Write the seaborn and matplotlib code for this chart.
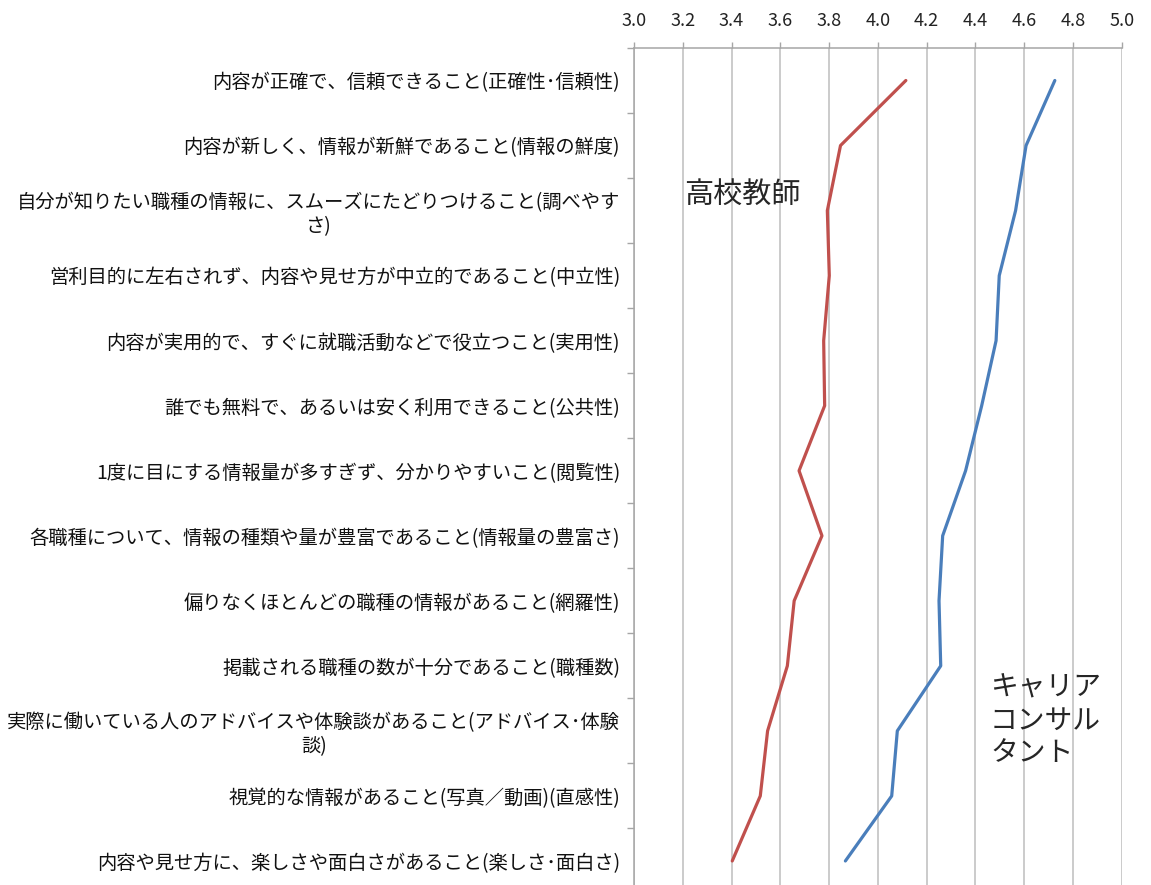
import matplotlib
matplotlib.use("Agg")
import matplotlib.pyplot as plt
from matplotlib.ticker import FixedLocator
import seaborn as sns
import pandas as pd
import numpy as np

categories = [
    "内容が正確で、信頼できること(正確性･信頼性)",
    "内容が新しく、情報が新鮮であること(情報の鮮度)",
    "自分が知りたい職種の情報に、スムーズにたどりつけること(調べやす\nさ)",
    "営利目的に左右されず、内容や見せ方が中立的であること(中立性)",
    "内容が実用的で、すぐに就職活動などで役立つこと(実用性)",
    "誰でも無料で、あるいは安く利用できること(公共性)",
    "1度に目にする情報量が多すぎず、分かりやすいこと(閲覧性)",
    "各職種について、情報の種類や量が豊富であること(情報量の豊富さ)",
    "偏りなくほとんどの職種の情報があること(網羅性)",
    "掲載される職種の数が十分であること(職種数)",
    "実際に働いている人のアドバイスや体験談があること(アドバイス･体験\n談)",
    "視覚的な情報があること(写真／動画)(直感性)",
    "内容や見せ方に、楽しさや面白さがあること(楽しさ･面白さ)",
]
teachers = [4.115, 3.847, 3.793, 3.801, 3.778, 3.782, 3.677, 3.771, 3.657, 3.629, 3.548, 3.518, 3.403]
consultants = [4.726, 4.608, 4.565, 4.498, 4.485, 4.426, 4.360, 4.266, 4.251, 4.258, 4.080, 4.057, 3.867]
x_ticks = [3.0, 3.2, 3.4, 3.6, 3.8, 4.0, 4.2, 4.4, 4.6, 4.8, 5.0]
label_teachers = "高校教師"
label_consultants = "キャリア\nコンサル\nタント"

sns.set_theme(style="white")
plt.rcParams['font.family'] = ['Noto Sans CJK JP', 'DejaVu Sans']

pos = np.arange(len(categories))
df = pd.DataFrame({
    "pos": np.concatenate([pos, pos]),
    "score": teachers + consultants,
    "group": ["t"] * len(pos) + ["c"] * len(pos),
})

fig = plt.figure(figsize=(11.51, 8.85), dpi=100)
ax = fig.add_axes([0.5508, -0.0096, 0.4237, 0.9554])

sns.lineplot(data=df, x="score", y="pos", hue="group", orient="y", sort=False,
             palette={"t": "#C0504D", "c": "#4A7EBB"}, linewidth=2.3,
             legend=False, ax=ax, zorder=3)

ax.set_xlim(3.0, 5.0)
ax.set_ylim(len(categories) - 0.5, -0.5)

ax.xaxis.tick_top()
ax.xaxis.set_major_locator(FixedLocator(x_ticks))
ax.set_xticklabels([f"{v:.1f}" for v in x_ticks], fontsize=13, color="#222222")
ax.tick_params(axis="x", which="major", direction="out", length=4, width=1,
               color="#A6A6A6", pad=9, top=True, bottom=False)
ax.grid(True, axis="x", color="#BDBDBD", linewidth=1.1)
ax.grid(False, axis="y")

ax.yaxis.set_major_locator(FixedLocator(pos))
ax.set_yticklabels(categories, fontsize=13.9, color="#111111")
for t in ax.get_yticklabels():
    t.set_multialignment("center")
ax.yaxis.set_minor_locator(FixedLocator(np.arange(-0.5, len(categories), 1.0)))
ax.tick_params(axis="y", which="major", length=0, pad=10)
ax.tick_params(axis="y", which="minor", direction="out", length=5, width=1,
               color="#A6A6A6", left=True)

ax.set_xlabel("")
ax.set_ylabel("")
for side in ["right", "bottom"]:
    ax.spines[side].set_visible(False)
for side in ["top", "left"]:
    ax.spines[side].set_color("#A6A6A6")
    ax.spines[side].set_linewidth(1.1)

ax.text(3.205, 1.76, label_teachers, fontsize=21, ha="left", va="center")
ax.text(4.46, 9.84, label_consultants, fontsize=20, ha="left", va="center",
        linespacing=1.12)

fig.savefig("out.png", dpi=100)
